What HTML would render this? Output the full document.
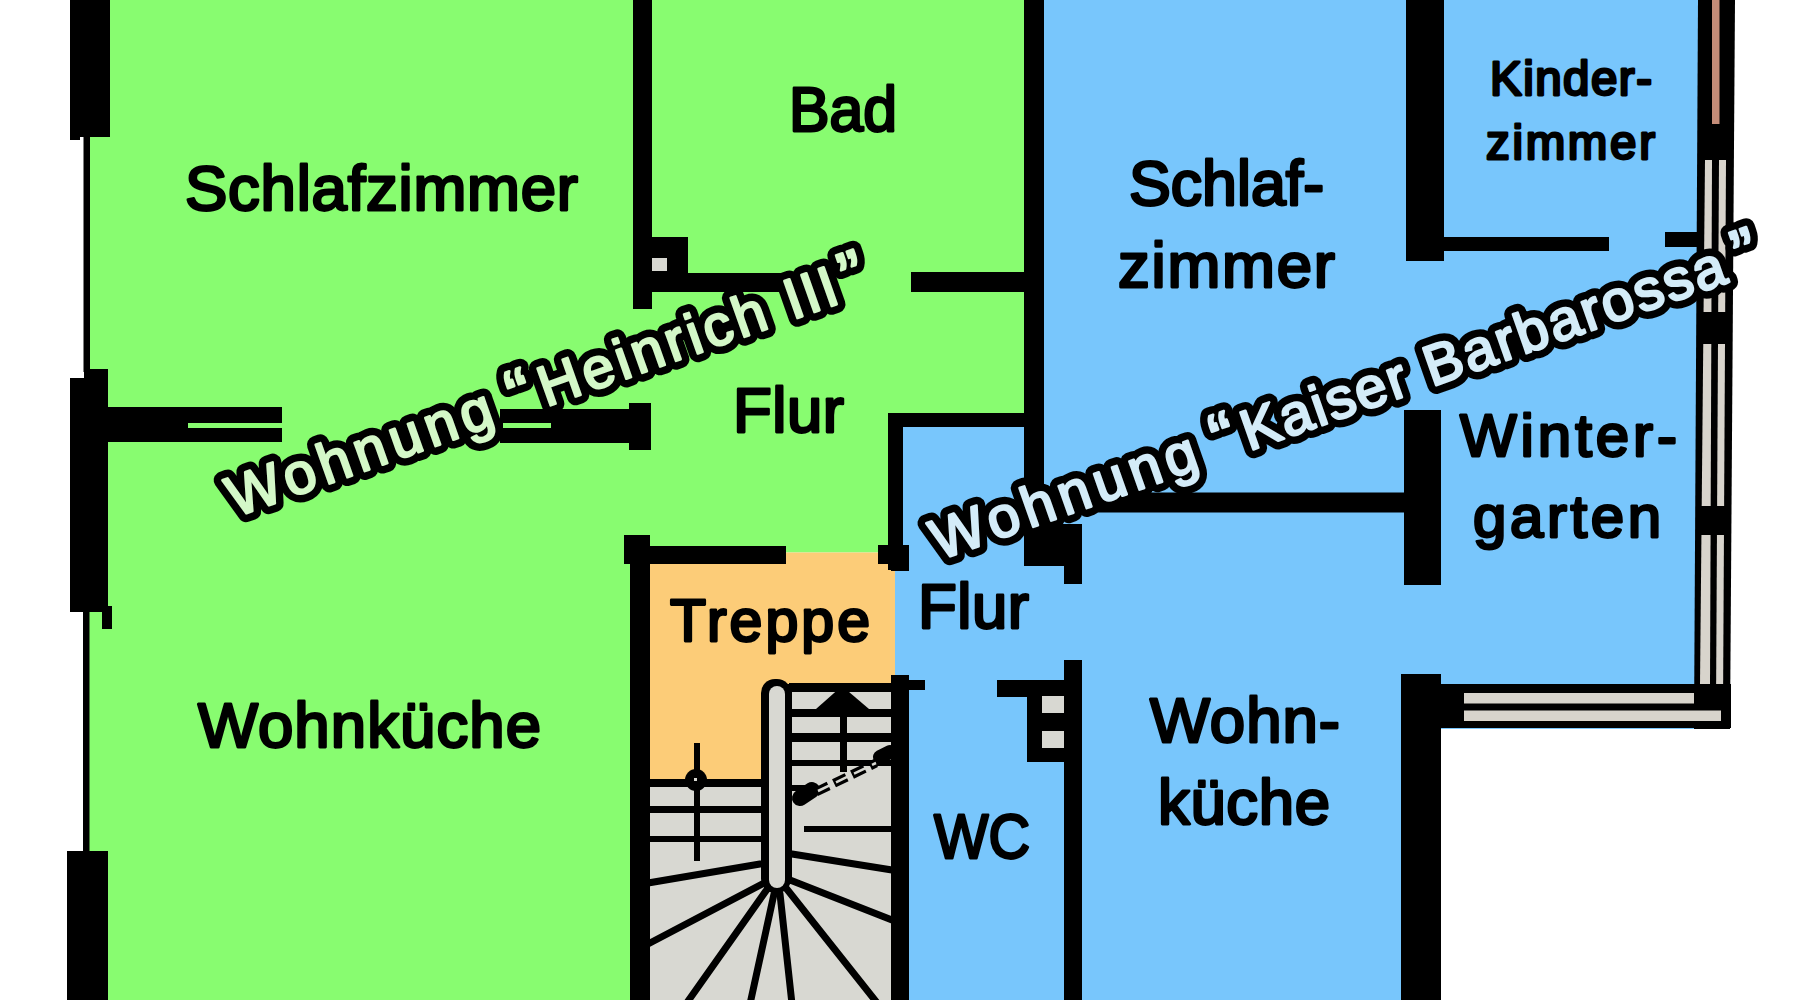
<!DOCTYPE html>
<html><head><meta charset="utf-8">
<style>
html,body{margin:0;padding:0;background:#fff;width:1800px;height:1000px;overflow:hidden}
svg{display:block}
text{font-family:"Liberation Sans",sans-serif;font-weight:bold}
text.t{font-weight:normal}
.lab text{font-weight:normal}
</style></head><body>
<svg width="1800" height="1000" viewBox="0 0 1800 1000">
<!-- fills -->
<rect x="890" y="0" width="815" height="1000" fill="#78C6FC"/>
<polygon fill="#88FC70" points="88,0 1030,0 1030,420 895,420 895,552.5 640,552.5 640,1000 88,1000"/>
<rect x="648" y="552.5" width="247" height="229" fill="#FCCC78"/>
<rect x="648" y="780" width="244" height="220" fill="#D8D8D2"/>
<rect x="789" y="684" width="103" height="100" fill="#D8D8D2"/>
<!-- staircase lines -->
<g fill="#000" stroke="none">
<rect x="648" y="779" width="115" height="8"/>
<rect x="648" y="806" width="115" height="7"/>
<rect x="648" y="836" width="115" height="6"/>
<rect x="694" y="743" width="6" height="118"/>
<circle cx="696" cy="780" r="11"/>
<rect x="789" y="683" width="103" height="9"/>
<rect x="789" y="709" width="103" height="8"/>
<rect x="789" y="733" width="103" height="9"/>
<rect x="789" y="760" width="103" height="6"/>
<polygon points="842,686 816,709 869,709"/>
<rect x="840" y="708" width="7" height="64"/>
<rect x="804" y="826" width="88" height="6"/>
<rect x="786" y="684" width="6" height="200"/>
<rect x="790" y="785" width="25" height="6"/>
</g>
<g stroke="#000" stroke-width="7" stroke-linecap="round">
<line x1="648" y1="883" x2="760" y2="864"/>
<line x1="648" y1="944" x2="764" y2="883"/>
<line x1="686" y1="1004" x2="768" y2="888"/>
<line x1="750" y1="1004" x2="774" y2="894"/>
<line x1="792" y1="1004" x2="780" y2="894"/>
<line x1="878" y1="1004" x2="786" y2="888"/>
<line x1="892" y1="920" x2="790" y2="880"/>
<line x1="892" y1="870" x2="792" y2="854"/>
<line x1="800" y1="798" x2="812" y2="790" stroke-width="16"/>
<line x1="880" y1="757" x2="890" y2="752" stroke-width="14"/>
<line x1="816" y1="792" x2="876" y2="763" stroke-width="9" stroke-dasharray="14 6" stroke-linecap="butt"/>
</g>
<line x1="818" y1="791" x2="876" y2="763" stroke="#D8D8D2" stroke-width="2.5" stroke-dasharray="14 6"/>
<rect x="761" y="679" width="30" height="214" rx="14" fill="#000"/>
<rect x="769" y="686" width="16" height="202" rx="8" fill="#D8D8D2"/>
<rect x="694" y="778" width="3" height="3" fill="#D8D8D2"/>
<rect x="1441" y="729" width="359" height="271" fill="#fff"/>
<polygon points="1735,0 1800,0 1800,1000 1730,1000 1730,729" fill="#fff"/>

<g fill="#000">
<!-- left outer wall -->
<rect x="70" y="0" width="40" height="137"/>
<rect x="83.5" y="137" width="6.5" height="235"/>
<rect x="84" y="369" width="24" height="10"/>
<rect x="70" y="378" width="38" height="234"/>
<rect x="83" y="610" width="6.5" height="243"/>
<rect x="102" y="606" width="10" height="23"/>
<rect x="70" y="130" width="10" height="10"/>
<rect x="67" y="851" width="41" height="149"/>

<!-- Schlafzimmer / Wohnkueche wall -->
<rect x="108" y="407" width="174" height="35"/>
<rect x="500" y="409" width="131" height="34"/>
<rect x="629" y="403" width="22" height="47"/>

<!-- Bad wall -->
<rect x="633" y="0" width="19" height="309"/>
<rect x="651" y="237" width="37" height="40"/>
<rect x="651" y="273" width="140" height="19"/>
<rect x="911" y="272" width="114" height="20"/>

<!-- main vertical wall -->
<rect x="1024" y="0" width="20" height="566"/>
<rect x="1024" y="524" width="58" height="42"/>
<rect x="1064" y="524" width="18" height="60"/>

<!-- Flur box -->
<rect x="888" y="413" width="156" height="14"/>
<rect x="888" y="413" width="15" height="157"/>
<rect x="878" y="545" width="31" height="19"/>
<rect x="891" y="545" width="18" height="26"/>

<!-- Schlafzimmer/Wohnkueche horizontal (blue) -->
<rect x="1080" y="492.5" width="325" height="20"/>
<rect x="1404" y="410" width="37" height="175"/>

<!-- Kinderzimmer walls -->
<rect x="1406" y="0" width="38" height="261"/>
<rect x="1442" y="237" width="167" height="14"/>
<rect x="1665" y="232" width="40" height="15"/>

<!-- Treppe top wall -->
<rect x="624" y="546" width="162" height="18"/>
<rect x="630" y="535" width="20" height="465"/>
<rect x="624" y="535" width="26" height="13"/>

<!-- stair right wall / WC left -->
<rect x="891" y="675" width="18" height="325"/>
<rect x="891" y="680" width="34" height="10"/>

<!-- WC right wall -->
<rect x="1064" y="660" width="18" height="340"/>
<rect x="997" y="680" width="67" height="17"/>
<rect x="1027" y="680" width="37" height="82"/>

<!-- Wohnkueche right wall -->
<rect x="1401" y="674" width="40" height="326"/>
</g>
<!-- WC light squares -->
<rect x="1042" y="696" width="22" height="17" fill="#D8D8D2"/>
<rect x="1042" y="731" width="22" height="17" fill="#D8D8D2"/>
<rect x="652" y="258" width="15" height="13" fill="#D8D8D2"/>
<rect x="188" y="423" width="94" height="5" fill="#88FC70"/>
<rect x="503" y="423" width="48" height="5" fill="#88FC70"/>

<!-- right window frame -->
<polygon points="1698,0 1735,0 1730,729 1694,729" fill="#000"/>
<polygon points="1705,160 1712,160 1710,686 1700,686" fill="#D8D4CC"/>
<polygon points="1719,160 1726,160 1723,710 1716,710" fill="#D8D4CC"/>
<rect x="1712" y="0" width="7.5" height="124" fill="#C48C78"/>
<rect x="1700" y="506" width="27" height="29" fill="#000"/>
<rect x="1702" y="312" width="28" height="32" fill="#000"/>
<!-- bottom window frame -->
<rect x="1441" y="684" width="290" height="44" fill="#000"/>
<rect x="1464" y="693" width="230" height="10.5" fill="#D8D4CC"/>
<rect x="1464" y="710.5" width="257" height="10.5" fill="#D8D4CC"/>

<!-- labels -->
<g fill="#000" font-size="63.5" stroke="#000" stroke-width="2.8" stroke-linejoin="round" class="lab">
<text x="185" y="210" textLength="393" lengthAdjust="spacing">Schlafzimmer</text>
<text x="789" y="131" textLength="108" lengthAdjust="spacingAndGlyphs">Bad</text>
<text x="733" y="432" textLength="111" lengthAdjust="spacing">Flur</text>
<text x="198" y="746.6" textLength="343" lengthAdjust="spacing">Wohnküche</text>
<text x="670" y="640.5" textLength="200" lengthAdjust="spacing" font-size="59">Treppe</text>
<text x="918" y="628" textLength="111" lengthAdjust="spacing">Flur</text>
<text x="934" y="858" textLength="96" lengthAdjust="spacingAndGlyphs">WC</text>
<text x="1129" y="205" textLength="195" lengthAdjust="spacingAndGlyphs">Schlaf-</text>
<text x="1118" y="287" textLength="217" lengthAdjust="spacing">zimmer</text>
<text x="1490" y="95" textLength="162" lengthAdjust="spacing" font-size="47.5">Kinder-</text>
<text x="1486" y="159" textLength="169" lengthAdjust="spacing" font-size="47.5">zimmer</text>
<text x="1460" y="456" textLength="217" lengthAdjust="spacing" font-size="60">Winter-</text>
<text x="1473" y="536.8" textLength="188" lengthAdjust="spacing" font-size="60">garten</text>
<text x="1150" y="742" textLength="190" lengthAdjust="spacing">Wohn-</text>
<text x="1158" y="823.6" textLength="172" lengthAdjust="spacing">küche</text>
</g>

<!-- rotated titles -->
<g font-size="57" stroke-linejoin="round">
<g id="t1" transform="translate(233.4,517.8) rotate(-19.5)">
<text class="t" x="2.0" textLength="277.6" lengthAdjust="spacing" fill="#000" stroke="#000" stroke-width="17.5">Wohnung</text>
<text class="t" x="299.5" y="2" font-size="70" fill="#000" stroke="#000" stroke-width="17.5">“</text>
<text class="t" x="331.9" textLength="238.0" lengthAdjust="spacing" fill="#000" stroke="#000" stroke-width="17.5">Heinrich</text>
<text class="t" x="593.0" textLength="52.3" lengthAdjust="spacing" fill="#000" stroke="#000" stroke-width="17.5">III</text>
<text class="t" x="652.8" y="2" font-size="70" fill="#000" stroke="#000" stroke-width="17.5">”</text>
<text class="t" x="2.0" textLength="277.6" lengthAdjust="spacing" fill="#D4F8C8" stroke="#D4F8C8" stroke-width="2.5">Wohnung</text>
<text class="t" x="299.5" y="2" font-size="70" fill="#D4F8C8" stroke="#D4F8C8" stroke-width="2.5">“</text>
<text class="t" x="331.9" textLength="238.0" lengthAdjust="spacing" fill="#D4F8C8" stroke="#D4F8C8" stroke-width="2.5">Heinrich</text>
<text class="t" x="593.0" textLength="52.3" lengthAdjust="spacing" fill="#D4F8C8" stroke="#D4F8C8" stroke-width="2.5">III</text>
<text class="t" x="652.8" y="2" font-size="70" fill="#D4F8C8" stroke="#D4F8C8" stroke-width="2.5">”</text>
</g>
<g id="t2" transform="translate(937.1,560.9) rotate(-19.4)">
<text class="t" x="1.9" textLength="278.0" lengthAdjust="spacing" fill="#000" stroke="#000" stroke-width="17.5">Wohnung</text>
<text class="t" x="299.6" y="2" font-size="70" fill="#000" stroke="#000" stroke-width="17.5">“</text>
<text class="t" x="330.6" textLength="172.3" lengthAdjust="spacing" fill="#000" stroke="#000" stroke-width="17.5">Kaiser</text>
<text class="t" x="524.4" textLength="315.7" lengthAdjust="spacing" fill="#000" stroke="#000" stroke-width="17.5">Barbarossa</text>
<text class="t" x="853.3" y="2" font-size="70" fill="#000" stroke="#000" stroke-width="17.5">”</text>
<text class="t" x="1.9" textLength="278.0" lengthAdjust="spacing" fill="#D4ECF8" stroke="#D4ECF8" stroke-width="2.5">Wohnung</text>
<text class="t" x="299.6" y="2" font-size="70" fill="#D4ECF8" stroke="#D4ECF8" stroke-width="2.5">“</text>
<text class="t" x="330.6" textLength="172.3" lengthAdjust="spacing" fill="#D4ECF8" stroke="#D4ECF8" stroke-width="2.5">Kaiser</text>
<text class="t" x="524.4" textLength="315.7" lengthAdjust="spacing" fill="#D4ECF8" stroke="#D4ECF8" stroke-width="2.5">Barbarossa</text>
<text class="t" x="853.3" y="2" font-size="70" fill="#D4ECF8" stroke="#D4ECF8" stroke-width="2.5">”</text>
</g>
</g>
</svg>
</body></html>
